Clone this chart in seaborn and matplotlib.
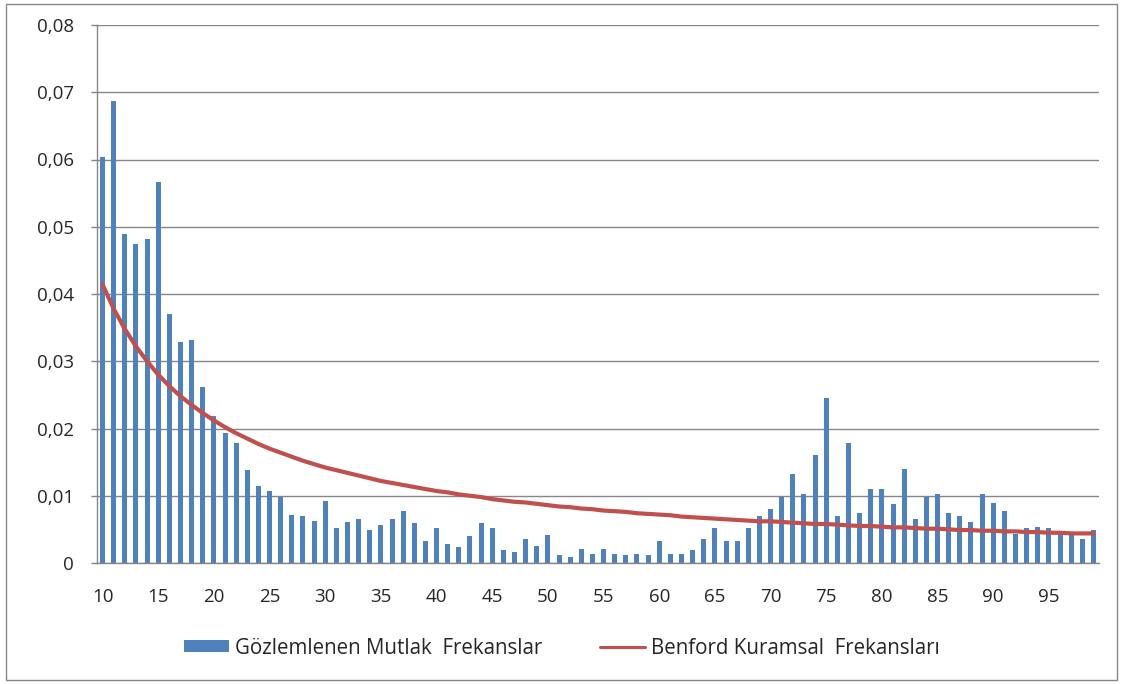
import numpy as np
import pandas as pd
import matplotlib
matplotlib.use("Agg")
import matplotlib.pyplot as plt
import seaborn as sb
from matplotlib.patches import Patch, Rectangle
from matplotlib.lines import Line2D
from matplotlib.ticker import FuncFormatter

# first two digits 10..99
digits = list(range(10, 100))

# observed frequencies
observed = [
    0.0603, 0.0687, 0.0489, 0.0475, 0.0482, 0.0566, 0.0370, 0.0328, 0.0331, 0.0261,  # 10-19
    0.0219, 0.0193, 0.0179, 0.0138, 0.0114, 0.0107, 0.0098, 0.0072, 0.0070, 0.0063,  # 20-29
    0.0092, 0.0052, 0.0061, 0.0066, 0.0049, 0.0056, 0.0066, 0.0077, 0.0059, 0.0033,  # 30-39
    0.0052, 0.0028, 0.0024, 0.0040, 0.0059, 0.0052, 0.0019, 0.0016, 0.0035, 0.0026,  # 40-49
    0.0042, 0.0012, 0.0009, 0.0021, 0.0014, 0.0021, 0.0014, 0.0012, 0.0014, 0.0012,  # 50-59
    0.0033, 0.0014, 0.0014, 0.0019, 0.0035, 0.0052, 0.0033, 0.0033, 0.0052, 0.0070,  # 60-69
    0.0080, 0.0098, 0.0133, 0.0103, 0.0161, 0.0245, 0.0070, 0.0178, 0.0075, 0.0110,  # 70-79
    0.0110, 0.0087, 0.0140, 0.0066, 0.0098, 0.0103, 0.0075, 0.0070, 0.0061, 0.0103,  # 80-89
    0.0089, 0.0077, 0.0043, 0.0052, 0.0054, 0.0052, 0.0044, 0.0041, 0.0035, 0.0049,  # 90-99
]

# Benford theoretical frequencies
benford = [
    0.0414, 0.0378, 0.0348, 0.0322, 0.0300, 0.0280, 0.0263, 0.0248, 0.0235, 0.0223,
    0.0212, 0.0202, 0.0193, 0.0185, 0.0177, 0.0170, 0.0164, 0.0158, 0.0152, 0.0147,
    0.0142, 0.0138, 0.0134, 0.0130, 0.0126, 0.0122, 0.0119, 0.0116, 0.0113, 0.0110,
    0.0107, 0.0105, 0.0102, 0.0100, 0.0098, 0.0095, 0.0093, 0.0091, 0.0090, 0.0088,
    0.0086, 0.0084, 0.0083, 0.0081, 0.0080, 0.0078, 0.0077, 0.0076, 0.0074, 0.0073,
    0.0072, 0.0071, 0.0069, 0.0068, 0.0067, 0.0066, 0.0065, 0.0064, 0.0063, 0.0062,
    0.0062, 0.0061, 0.0060, 0.0059, 0.0058, 0.0058, 0.0057, 0.0056, 0.0055, 0.0055,
    0.0054, 0.0053, 0.0053, 0.0052, 0.0051, 0.0051, 0.0050, 0.0049, 0.0049, 0.0048,
    0.0048, 0.0047, 0.0047, 0.0046, 0.0046, 0.0045, 0.0045, 0.0044, 0.0044, 0.0044,
]

x_labels = list(range(10, 100, 5))
y_ticks = [0, 0.01, 0.02, 0.03, 0.04, 0.05, 0.06, 0.07, 0.08]

bar_label = "Gözlemlenen Mutlak  Frekanslar"
line_label = "Benford Kuramsal  Frekansları"

BLUE = "#4F81BD"
RED = "#C0504D"
GRID = "#868686"


def main():
    sb.set_style("white")
    plt.rcParams["font.family"] = ["Open Sans", "DejaVu Sans"]

    df = pd.DataFrame({"digit": digits, "observed": observed, "benford": benford})

    fig = plt.figure(figsize=(11.24, 6.84), dpi=100)
    ax = fig.add_axes([97 / 1124, 121 / 684, 1002 / 1124, 538 / 684])

    sb.barplot(data=df, x="digit", y="observed", native_scale=True, width=0.45,
               color=BLUE, saturation=1, edgecolor="none", ax=ax)
    sb.lineplot(data=df, x="digit", y="benford", color=RED, linewidth=3, ax=ax)

    ax.set_xlim(9.5, 99.5)
    ax.set_ylim(0, 0.08)
    ax.set_xlabel("")
    ax.set_ylabel("")

    ax.set_yticks(y_ticks)
    ax.yaxis.set_major_formatter(FuncFormatter(
        lambda v, p: "0" if v == 0 else ("%.2f" % v).replace(".", ",")))
    ax.grid(axis="y", color=GRID, linewidth=1)
    ax.set_axisbelow(True)

    ax.set_xticks(x_labels)
    ax.set_xticklabels([str(v) for v in x_labels])
    ax.set_xticks([v - 0.5 for v in range(10, 101, 5)], minor=True)
    ax.tick_params(axis="x", which="major", length=0, labelsize=13.5, pad=18)
    ax.tick_params(axis="x", which="minor", length=3.6, color=GRID, width=1)
    ax.tick_params(axis="y", which="major", length=4.5, color=GRID, width=1,
                   labelsize=13.5, pad=12, left=True)

    for s in ["top", "right"]:
        ax.spines[s].set_visible(False)
    for s in ["left", "bottom"]:
        ax.spines[s].set_color(GRID)
        ax.spines[s].set_linewidth(1)

    handles = [Patch(facecolor=BLUE, edgecolor="none"),
               Line2D([0], [0], color=RED, linewidth=2.2)]
    fig.legend(handles, [bar_label, line_label], loc="center",
               bbox_to_anchor=(0.5, 36 / 684), ncol=2, frameon=False,
               fontsize=14.8, handlelength=2.2, handleheight=0.5,
               handletextpad=0.3, columnspacing=2.8)

    fig.patches.append(Rectangle((6 / 1124, 4 / 684), 1111 / 1124, 676 / 684,
                                 transform=fig.transFigure, fill=False,
                                 edgecolor=GRID, linewidth=1))

    fig.savefig("out.png", dpi=100)


if __name__ == "__main__":
    main()
